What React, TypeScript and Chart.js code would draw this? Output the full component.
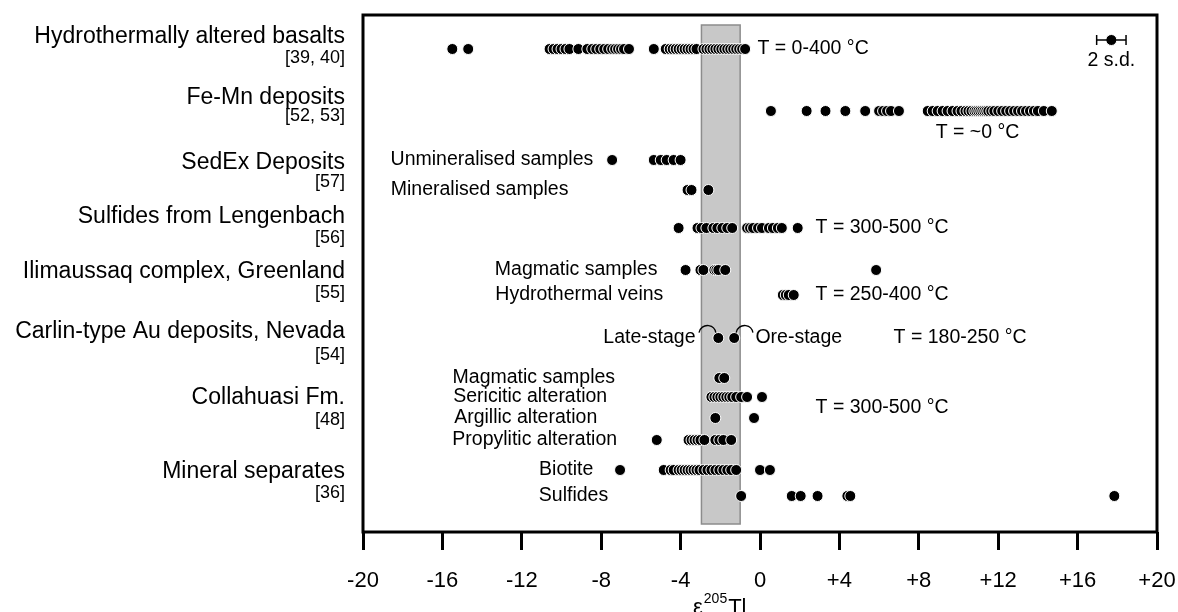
import React, { useEffect, useRef } from "react";
import { Chart, registerables } from "chart.js";
Chart.register(...registerables);

// ---- axis ----
const X_MIN = -20;
const X_MAX = 20;
const X_STEP = 4;
const Y_MIN = 0;
const Y_MAX = 25.85;

// ---- group labels (left side) ----
const GROUP_LABELS = [
  "Hydrothermally altered basalts",
  "Fe-Mn deposits",
  "SedEx Deposits",
  "Sulfides from Lengenbach",
  "Ilimaussaq complex, Greenland",
  "Carlin-type Au deposits, Nevada",
  "Collahuasi Fm.",
  "Mineral separates",
];
const GROUP_REFS = ["[39, 40]", "[52, 53]", "[57]", "[56]", "[55]", "[54]", "[48]", "[36]"];
const GROUP_LABEL_ROW = [1.08, 4.15, 7.4, 10.1, 12.85, 15.85, 19.15, 22.85];
const GROUP_REF_ROW = [2.15, 5.05, 8.35, 11.15, 13.9, 17.0, 20.25, 23.9];

// ---- series (epsilon 205Tl values) ----
const basalts = [-15.5, -14.7, -10.6, -10.4, -10.2, -10.0, -9.8, -9.6, -9.15, -8.7, -8.45, -8.25, -8.05, -7.85, -7.65, -7.45, -7.3, -7.15, -7.0, -6.85, -6.6, -5.35, -4.75, -4.55, -4.4, -4.25, -4.1, -3.95, -3.8, -3.65, -3.5, -3.35, -3.2, -2.85, -2.7, -2.55, -2.4, -2.25, -2.1, -1.95, -1.8, -1.65, -1.5, -1.35, -1.2, -1.05, -0.9, -0.75];
const feMn = [0.55, 2.35, 3.3, 4.3, 5.3, 6.0, 6.2, 6.4, 6.6, 7.0, 8.45, 8.7, 8.95, 9.2, 9.45, 9.7, 9.95, 10.15, 10.35, 10.5, 10.65, 10.8, 10.9, 11.0, 11.1, 11.2, 11.3, 11.4, 11.5, 11.65, 11.8, 12.0, 12.2, 12.4, 12.6, 12.8, 13.0, 13.2, 13.4, 13.6, 13.8, 14.0, 14.3, 14.7];
const sedexUnmineralised = [-7.45, -5.35, -5.0, -4.7, -4.35, -4.0];
const sedexMineralised = [-3.65, -3.45, -2.6];
const lengenbach = [-4.1, -3.15, -2.95, -2.7, -2.35, -2.15, -1.9, -1.65, -1.4, -0.65, -0.5, -0.35, -0.1, 0.1, 0.45, 0.65, 0.9, 1.1, 1.9];
const ilimMagmatic = [-3.75, -3.0, -2.85, -2.3, -2.2, -2.1, -1.75, 5.85];
const ilimVeins = [1.15, 1.3, 1.45, 1.7];
const carlin = [-2.1, -1.3];
const collMagmatic = [-2.05, -1.8];
const collSericitic = [-2.45, -2.3, -2.15, -2.0, -1.85, -1.7, -1.55, -1.4, -1.2, -0.95, -0.65, 0.1];
const collArgillic = [-2.25, -0.3];
const collPropylitic = [-5.2, -3.6, -3.45, -3.3, -3.15, -3.0, -2.8, -2.25, -2.05, -1.85, -1.45];
const biotite = [-7.05, -4.85, -4.5, -4.35, -4.1, -3.95, -3.8, -3.65, -3.5, -3.35, -3.2, -3.05, -2.85, -2.65, -2.45, -2.25, -2.05, -1.85, -1.65, -1.45, -1.2, 0.0, 0.5];
const sulfides = [-0.95, 1.6, 2.05, 2.9, 4.4, 4.55, 17.85];

const SERIES = [basalts, feMn, sedexUnmineralised, sedexMineralised, lengenbach, ilimMagmatic, ilimVeins, carlin, collMagmatic, collSericitic, collArgillic, collPropylitic, biotite, sulfides];
const SERIES_ROW = [1.7, 4.8, 7.25, 8.75, 10.65, 12.75, 14.0, 16.15, 18.15, 19.1, 20.15, 21.25, 22.75, 24.05];

// ---- 2 s.d. scale bar ----
const SD_CENTER = 17.7;
const SD_HALF = 0.74;
const SD_ROW = 1.25;

// ---- grey band (bulk silicate earth range) ----
const BAND_X = [-2.95, -1.0];
const BAND_ROWS = [0.5, 25.45];

// ---- in-plot annotations ----
const NOTE_TEXT = [
  "T = 0-400 °C", "T = ~0 °C", "Unmineralised samples", "Mineralised samples", "T = 300-500 °C",
  "Magmatic samples", "Hydrothermal veins", "T = 250-400 °C", "Late-stage", "Ore-stage", "T = 180-250 °C",
  "Magmatic samples", "Sericitic alteration", "Argillic alteration", "Propylitic alteration", "T = 300-500 °C",
  "Biotite", "Sulfides", "2 s.d.",
];
const NOTE_X = [-0.13, 8.85, -8.4, -9.65, 2.8, -5.17, -4.87, 2.8, -3.25, -0.23, 6.73, -7.3, -7.7, -8.2, -7.2, 2.8, -8.4, -7.65, 17.7];
const NOTE_ROW = [1.7, 5.9, 7.25, 8.75, 10.65, 12.75, 14.0, 14.0, 16.15, 16.15, 16.15, 18.15, 19.1, 20.15, 21.25, 19.65, 22.75, 24.05, 2.3];
const NOTE_ALIGN = ["left", "left", "right", "right", "left", "right", "right", "left", "right", "left", "left", "right", "right", "right", "right", "left", "right", "right", "center"];
const ARC_X = [-2.65, -0.78];
const ARC_ROW = 15.95;

const FONT = '"Liberation Sans", Arial, Helvetica, sans-serif';

const overlay = {
  id: "overlay",
  beforeDatasetsDraw(chart: any) {
    const { ctx, scales } = chart;
    const x = scales.x, y = scales.y;
    const l = x.getPixelForValue(BAND_X[0]);
    const r = x.getPixelForValue(BAND_X[1]);
    const t = y.getPixelForValue(BAND_ROWS[0]);
    const b = y.getPixelForValue(BAND_ROWS[1]);
    ctx.save();
    ctx.fillStyle = "#c8c8c8";
    ctx.fillRect(l, t, r - l, b - t);
    ctx.strokeStyle = "#8c8c8c";
    ctx.lineWidth = 1.5;
    ctx.strokeRect(l, t, r - l, b - t);
    ctx.restore();
  },
  afterDraw(chart: any) {
    const { ctx, scales, chartArea } = chart;
    const x = scales.x, y = scales.y;
    ctx.save();
    // frame
    ctx.strokeStyle = "#000";
    ctx.lineWidth = 3;
    ctx.strokeRect(chartArea.left, chartArea.top, chartArea.right - chartArea.left, chartArea.bottom - chartArea.top);

    ctx.fillStyle = "#000";
    ctx.textBaseline = "middle";
    // group labels
    const labelRight = chartArea.left - 18;
    ctx.textAlign = "right";
    ctx.font = `23px ${FONT}`;
    GROUP_LABELS.forEach((s, i) => ctx.fillText(s, labelRight, y.getPixelForValue(GROUP_LABEL_ROW[i])));
    ctx.font = `18px ${FONT}`;
    GROUP_REFS.forEach((s, i) => ctx.fillText(s, labelRight, y.getPixelForValue(GROUP_REF_ROW[i])));

    // notes
    ctx.font = `19.5px ${FONT}`;
    NOTE_TEXT.forEach((s, i) => {
      ctx.textAlign = NOTE_ALIGN[i] as CanvasTextAlign;
      ctx.fillText(s, x.getPixelForValue(NOTE_X[i]), y.getPixelForValue(NOTE_ROW[i]));
    });

    // curls
    ctx.lineWidth = 1.3;
    ARC_X.forEach((v) => {
      ctx.beginPath();
      ctx.arc(x.getPixelForValue(v), y.getPixelForValue(ARC_ROW), 8.5, Math.PI * 1.05, Math.PI * 1.95);
      ctx.stroke();
    });

    // axis title epsilon 205 Tl
    const x0 = x.getPixelForValue(0) - 67;
    ctx.textAlign = "left";
    ctx.textBaseline = "alphabetic";
    ctx.font = `22px ${FONT}`;
    ctx.fillText("ε", x0, 614);
    const w1 = ctx.measureText("ε").width;
    ctx.font = `14px ${FONT}`;
    ctx.fillText("205", x0 + w1 + 1, 603);
    const w2 = ctx.measureText("205").width;
    ctx.font = `22px ${FONT}`;
    ctx.fillText("Tl", x0 + w1 + w2 + 2, 614);
    ctx.restore();
  },
};

export default function App() {
  const ref = useRef<HTMLCanvasElement | null>(null);
  useEffect(() => {
    if (!ref.current) return;
    const pointStyle = {
      pointRadius: 5.5,
      pointHoverRadius: 5.5,
      pointBackgroundColor: "#000",
      pointBorderColor: "#fff",
      pointBorderWidth: 1,
    };
    const datasets: any[] = SERIES.map((vals, i) => ({
      data: vals.map((v) => ({ x: v, y: SERIES_ROW[i] })),
      ...pointStyle,
    }));
    datasets.push({
      data: [
        { x: SD_CENTER - SD_HALF, y: SD_ROW },
        { x: SD_CENTER + SD_HALF, y: SD_ROW },
      ],
      showLine: true,
      borderColor: "#000",
      borderWidth: 1.5,
      pointStyle: "line",
      pointRotation: 90,
      pointRadius: 5,
      pointBorderColor: "#000",
      pointBorderWidth: 1.5,
    });
    datasets.push({ data: [{ x: SD_CENTER, y: SD_ROW }], ...pointStyle });

    const chart = new Chart(ref.current, {
      type: "scatter",
      data: { datasets },
      options: {
        animation: false,
        responsive: false,
        events: [],
        layout: { padding: { left: 363, right: 21, top: 15, bottom: 0 } },
        plugins: { legend: { display: false }, tooltip: { enabled: false } },
        scales: {
          x: {
            type: "linear",
            min: X_MIN,
            max: X_MAX,
            afterFit: (s: any) => {
              s.height = 80;
              s.paddingLeft = 0;
              s.paddingRight = 0;
            },
            ticks: {
              stepSize: X_STEP,
              color: "#000",
              font: { family: FONT, size: 22 },
              padding: 18,
              callback: (v: any) => (v > 0 ? "+" + v : String(v)),
            },
            grid: {
              drawOnChartArea: false,
              drawTicks: true,
              tickLength: 18,
              tickWidth: 3,
              tickColor: "#000",
              color: "#000",
              lineWidth: 3,
            },
            border: { display: false },
          },
          y: { type: "linear", display: false, min: Y_MIN, max: Y_MAX, reverse: true },
        },
      },
      plugins: [overlay],
    });
    return () => chart.destroy();
  }, []);
  return (
    <div style={{ position: "absolute", left: 0, top: 0, width: 1178, height: 612, background: "#fff" }}>
      <canvas ref={ref} width={1178} height={612} />
    </div>
  );
}
